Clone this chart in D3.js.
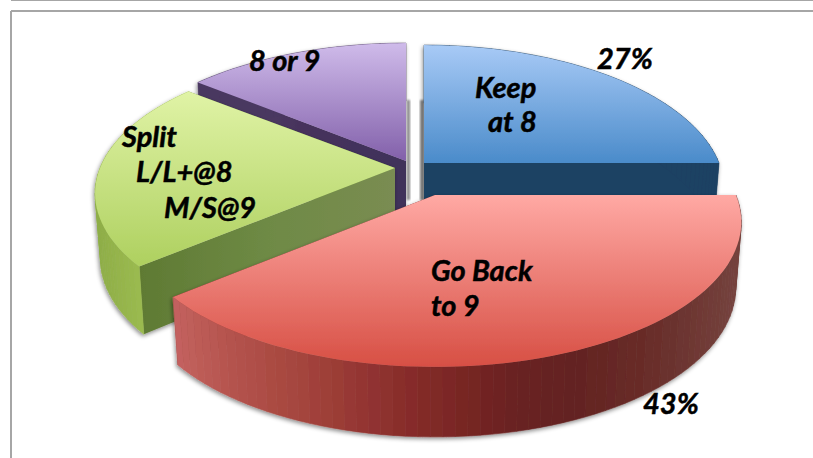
<!DOCTYPE html>
<html><head><meta charset="utf-8">
<script src="https://cdn.jsdelivr.net/npm/d3@7"></script>
<style>html,body{margin:0;padding:0;background:#fff}svg{display:block}text{font-family:Lato,"Open Sans",sans-serif;font-weight:700;font-style:italic;font-size:29px;fill:#000;stroke:#000;stroke-width:.5px}</style>
</head><body><div id="c"></div>
<script>
const categories = ["Keep at 8", "Go Back to 9", "Split", "8 or 9"];
const shares = [25, 38.9, 21.9, 14.2];
// Printed labels
const percentLabels = ["27%", "43%"];
const sliceLabels = [["Keep","at 8"],["Go Back","to 9"],["Split","L/L+@8","M/S@9"],["8 or 9"]];

const W=813,H=458;
const svg=d3.select("#c").append("svg").attr("width",W).attr("height",H);
const defs=svg.append("defs");
const f=defs.append("filter").attr("id","sh").attr("x","-10%").attr("y","-10%").attr("width","120%").attr("height","120%");
f.append("feDropShadow").attr("dx",-1).attr("dy",2).attr("stdDeviation",2).attr("flood-color","#000").attr("flood-opacity",0.45);
defs.append("filter").attr("id","bl").append("feGaussianBlur").attr("stdDeviation",1.3);

const style=[
 {apex:[424,163],sx:1,sy:1,top:["#a8caf6","#4a8bca"],rim:["#1f4263","#1f4263"],wallS:["#1f4263","#1f4263"],wallE:["#1f4263","#1f4263"]},
 {apex:[435,195],sx:1.02,sy:1,top:["#ffa9a4","#d74f44"],rim:["#c4625f","#b04f48","#a2423a","#8c2f2d","#7a2624","#642020","#642522","#6a302c","#75433e"],wallS:["#63201f","#63201f"],wallE:["#63201f","#63201f"]},
 {apex:[395,168],sx:1,sy:0.97,top:["#e0f3a6","#aed05f"],rim:["#8fae48","#9bbb4f","#a9c95f"],wallS:["#5f7a33","#6e8a45","#7a8c52"],wallE:["#6a8a3a","#6a8a3a"]},
 {apex:[406,161],sx:1.012,sy:1,top:["#cfbbea","#8260aa"],rim:["#4a3860","#4a3860"],wallS:["#5a4a6c","#46325c","#40305a"],wallE:["#412f58","#412f58"]}
];
function grad(id,stops,vertical){
  const g=defs.append("linearGradient").attr("id",id).attr("x1",0).attr("y1",0).attr("x2",vertical?0:1).attr("y2",vertical?1:0);
  stops.forEach((c,i)=>g.append("stop").attr("offset",stops.length>1?i/(stops.length-1):0).attr("stop-color",c));
  return `url(#${id})`;
}
// Perspective projection of the ground plane
const D=5.37, FX=295*D, FY=751;
function project(s,a,r,lower){
  const u=Math.sin(a)*r*s.sx, v=-Math.cos(a)*r*s.sy;
  const k=D-v;
  let x=FX*u/k, y=FY*v/k;
  if(lower){ x*=0.982; y+=64+6*v; }
  return [s.apex[0]+x, s.apex[1]+y];
}
const pie=d3.pie().sort(null).value(d=>d);
const arcs=pie(shares);
const line=d3.line();
const STEP=Math.PI/90;
function arcPts(s,a0,a1,lower){
  const n=Math.max(2,Math.ceil(Math.abs(a1-a0)/STEP));
  return d3.range(n+1).map(i=>project(s,a0+(a1-a0)*i/n,1,lower));
}

// soft shadows in the gap between the back slices
[[407,3],[420,4]].forEach(([x,w])=>svg.append("rect").attr("x",x).attr("y",100).attr("width",w).attr("height",100).attr("fill","#888").attr("filter","url(#bl)"));

const order=[3,0,2,1];
order.forEach(i=>{
  const d=arcs[i],s=style[i];
  const g=svg.append("g").attr("filter","url(#sh)");
  const a0=d.startAngle,a1=d.endAngle;
  const topArc=arcPts(s,a0,a1,false), botArc=arcPts(s,a0,a1,true);
  const ap=project(s,0,0,false), apb=project(s,0,0,true);
  g.append("path").attr("d",line([ap,topArc[topArc.length-1],botArc[botArc.length-1],apb])+"Z").attr("fill",grad("we"+i,s.wallE,false));
  g.append("path").attr("d",line([ap,topArc[0],botArc[0],apb])+"Z").attr("fill",grad("ws"+i,s.wallS,false));
  // rim as narrow vertical bands
  const xs=topArc.map(p=>p[0]);
  const rimX=d3.scaleLinear().domain(d3.extent(xs)).range([0,1]);
  const rimColor=d3.interpolateRgbBasis(s.rim);
  d3.pairs(d3.range(topArc.length)).forEach(([a,b])=>{
    const col=rimColor(rimX((topArc[a][0]+topArc[b][0])/2));
    g.append("path").attr("d",line([topArc[a],topArc[b],botArc[b],botArc[a]])+"Z").attr("fill",col).attr("stroke",col).attr("stroke-width",.6);
  });
  g.append("path").attr("d",line([ap].concat(topArc))+"Z").attr("fill",grad("t"+i,s.top,true));
});

// frame
[[11,0,W,0],[11,11,W,11],[11,11,11,H]].forEach(([x1,y1,x2,y2])=>svg.append("line").attr("x1",x1).attr("y1",y1).attr("x2",x2).attr("y2",y2).attr("stroke","#a6a6a6").attr("stroke-width",2));

// labels
const labelPos=[[[475,98],[488,132]],[[431,281],[431,316]],[[122,147],[136,182],[164,218]],[[249,71]]];
sliceLabels.forEach((ls,i)=>ls.forEach((t,j)=>svg.append("text").attr("x",labelPos[i][j][0]).attr("y",labelPos[i][j][1]).text(t)));
[[597,69],[643,414]].forEach((p,i)=>svg.append("text").attr("x",p[0]).attr("y",p[1]).text(percentLabels[i]));
</script></body></html>
